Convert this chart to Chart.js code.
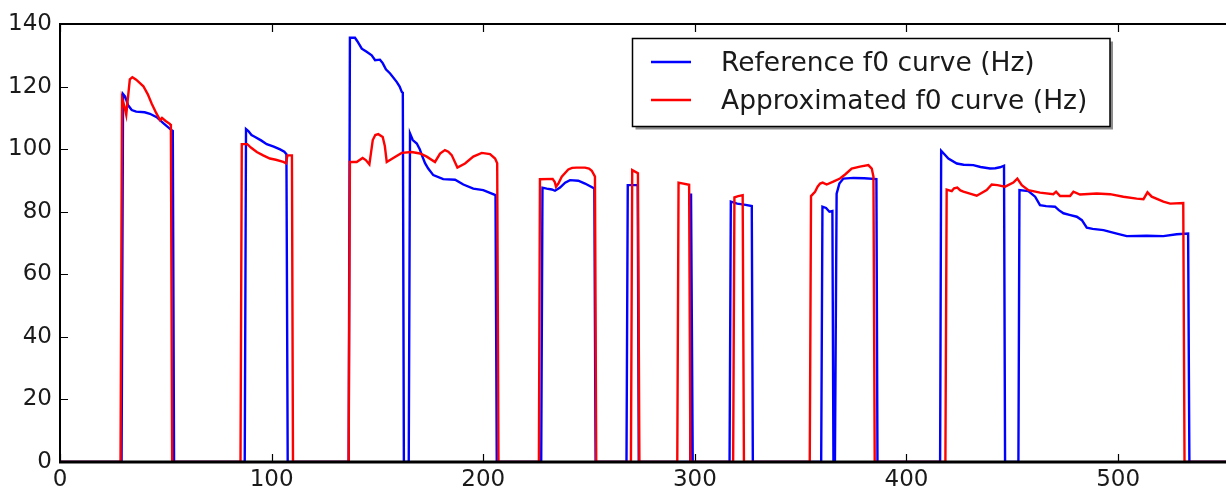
<!DOCTYPE html>
<html>
<head>
<meta charset="utf-8">
<title>f0 curves</title>
<script src="https://cdn.jsdelivr.net/npm/chart.js@4.4.1/dist/chart.umd.min.js"></script>
<style>
    html, body { margin: 0; padding: 0; background: #ffffff; }
    #wrap { width: 1226px; height: 493px; position: relative; }
</style>
</head>
<body>
<div id="wrap"><canvas id="f0Chart"></canvas></div>
<script>
// Reference f0 curve (blue), frame index -> Hz
const refX = [0,
    29.1, 29.8, 30.8, 32.2, 33.9, 36, 40, 42.5, 45.7, 48.8, 52.8, 53.3, 53.9,
    87.3, 87.9, 89, 90.5, 92.2, 95, 97.7, 101, 104, 106, 107.0, 107.6,
    136.4, 137, 139.4, 140.5, 142.6, 144.9, 147.3, 148.9, 151.2, 152.5, 154, 156, 159.1, 160.5, 161.5, 162, 162.5,
    164.8, 165.4, 166.7, 168.6, 170, 171, 172.5, 174, 176.4, 181.1, 186.7, 190.6, 195.3, 200, 205.8, 206.4,
    227.4, 228, 230, 232.4, 233.9, 236.3, 238.7, 241, 244.9, 248.1, 252.5, 253.1,
    267.7, 268.3, 273, 273.5,
    297.8, 298.2, 298.5, 299,
    316.4, 317, 320, 324, 326.9, 327.4,
    359.7, 360.3, 362, 363.6, 365, 365.5, 366.2, 367, 368.3, 370.2, 375, 380, 385.8, 386.3,
    415.9, 416.4, 417.5, 419.8, 423.8, 427, 431.6, 435, 439.5, 442, 444.2, 446.1, 446.6,
    452.9, 453.4, 457.6, 460.8, 463.1, 466, 470.2, 472, 474.2, 477, 480.5, 482.9, 485.2, 488, 493.1, 499.4, 504.1, 513.5, 521.4, 527.7, 533.1, 533.7,
    551];
const refY = [0,
    0, 117.6, 116.8, 114, 112.5, 112, 111.8, 111.3, 110.2, 108.3, 106, 105.8, 0,
    0, 106.4, 105.8, 104.5, 103.9, 102.8, 101.6, 100.8, 99.9, 99.2, 98.4, 0,
    0, 135.6, 135.6, 134.5, 132.1, 131.1, 130, 128.4, 128.6, 127.5, 125.5, 124.2, 121.5, 120, 118.3, 118, 0,
    0, 105, 102.9, 101.8, 100, 98.1, 95.5, 93.8, 91.7, 90.4, 90.2, 88.7, 87.4, 86.9, 85.3, 0,
    0, 87.7, 87.4, 87.1, 86.7, 87.7, 89.3, 90.1, 89.9, 89, 87.4, 0,
    0, 88.5, 88.5, 0,
    0, 85.8, 85.8, 0,
    0, 83.2, 82.6, 82.2, 81.8, 0,
    0, 81.6, 81.2, 80, 80.2, 0, 0, 85.8, 89, 90.6, 90.8, 90.7, 90.4, 0,
    0, 99.5, 98.7, 97, 95.4, 95, 94.9, 94.3, 93.8, 93.9, 94.2, 94.7, 0,
    0, 86.9, 86.6, 84.8, 82.1, 81.8, 81.6, 80.5, 79.5, 79, 78.4, 77.3, 74.9, 74.5, 74.1, 73, 72.2, 72.3, 72.2, 72.8, 73, 0,
    0];

// Approximated f0 curve (red)
const approxX = [0,
    28.6, 29.3, 30.5, 31.3, 32.2, 33, 34.2, 36, 39.4, 41.5, 43.3, 45.5, 47.3, 48.2, 49.9, 52, 52.4, 53,
    85.3, 85.9, 88.5, 90.2, 93, 96, 99.2, 102, 105.5, 106.8, 107.5, 109.6, 110.1,
    136.4, 137, 140.2, 143, 144.5, 146.2, 147.8, 149, 150.4, 152.5, 153.5, 154.4, 157.5, 161.5, 166.2, 170.1, 173.3, 177.2, 179.6, 181.9, 183.5, 185.1, 187.8, 191.4, 195.3, 199.3, 203.2, 205.6, 206.6, 207.2,
    226.3, 226.8, 232.8, 233.8, 234.4, 235.5, 237.1, 240.2, 242, 244.2, 248.1, 250, 251.3, 252.8, 253.4,
    269.8, 270.4, 273.1, 273.8,
    291.7, 292.3, 297.3, 297.9,
    318.1, 318.7, 320.5, 322.6, 323.2,
    354.3, 354.9, 356.8, 358, 359.2, 360.4, 362.3, 365.4, 368.6, 371, 374.1, 378, 382, 383.6, 384.4, 385,
    418.4, 419, 421.4, 422.5, 424, 425.5, 426.9, 430, 433.2, 437.9, 440.3, 443, 446.6, 450.5, 452.4, 454.5, 457.6, 463.1, 469.4, 470.7, 472.6, 477.3, 478.9, 482, 489.9, 496.2, 502.5, 508.8, 512, 513.9, 515.9, 521.4, 524.6, 530.8, 531.4,
    551];
const approxY = [0,
    0, 116.2, 113.5, 111, 117, 122.3, 123, 122.2, 120.1, 117.5, 114.6, 111.5, 109.3, 110, 109, 108, 107.5, 0,
    0, 101.6, 101.6, 100.5, 99.1, 98, 97, 96.6, 95.9, 95.5, 98, 98, 0,
    0, 95.9, 95.9, 97.2, 96.5, 95.1, 102.9, 104.5, 104.8, 103.9, 101, 95.9, 97.2, 98.8, 99.1, 98.6, 97.6, 95.9, 98.6, 99.7, 99.2, 98.1, 94.1, 95.4, 97.6, 98.8, 98.4, 97, 95.5, 0,
    0, 90.4, 90.5, 89.5, 88, 89, 91.2, 93.5, 94, 94.1, 94.1, 93.8, 93.1, 91.2, 0,
    0, 93.3, 92.3, 0,
    0, 89.3, 88.6, 0,
    0, 84.6, 85, 85.3, 0,
    0, 85, 86.4, 88, 89, 89.3, 88.7, 89.6, 90.6, 91.9, 93.8, 94.4, 94.9, 93.8, 91.2, 0,
    0, 87.1, 86.6, 87.5, 87.7, 86.8, 86.4, 85.8, 85.1, 86.9, 88.7, 88.5, 88, 89.3, 90.6, 88.5, 86.9, 86.1, 85.6, 86.4, 85, 85, 86.4, 85.5, 85.8, 85.6, 84.8, 84.2, 84, 86.2, 84.8, 83.2, 82.6, 82.8, 0,
    0];

const seriesLabels = ['Reference f0 curve (Hz)', 'Approximated f0 curve (Hz)'];
const seriesColors = ['#0000ff', '#ff0000'];
const xTicks = [0, 100, 200, 300, 400, 500];
const yTicks = [0, 20, 40, 60, 80, 100, 120, 140];

const TICK_FONT = '"DejaVu Sans", sans-serif';

// inward tick marks on bottom / top / left spines + the top spine itself
const frameTicks = {
    id: 'frameTicks',
    afterDraw(chart) {
        const { ctx, chartArea, scales } = chart;
        ctx.save();
        ctx.strokeStyle = '#000';
        ctx.lineWidth = 2;
        ctx.beginPath();
        ctx.moveTo(chartArea.left - 1, chartArea.top);
        ctx.lineTo(chartArea.right + 1, chartArea.top);
        ctx.stroke();

        // the zero runs of both curves sit under the bottom spine
        ctx.lineWidth = 3;
        ctx.beginPath();
        ctx.moveTo(chartArea.left - 1, chartArea.bottom);
        ctx.lineTo(chartArea.right + 1, chartArea.bottom);
        ctx.stroke();

        ctx.lineWidth = 1.2;
        ctx.beginPath();
        xTicks.forEach(v => {
            const px = Math.round(scales.x.getPixelForValue(v)) + 0.5;
            ctx.moveTo(px, chartArea.bottom);
            ctx.lineTo(px, chartArea.bottom - 8);
            ctx.moveTo(px, chartArea.top);
            ctx.lineTo(px, chartArea.top + 8);
        });
        yTicks.forEach(v => {
            const py = Math.round(scales.y.getPixelForValue(v)) + 0.5;
            ctx.moveTo(chartArea.left, py);
            ctx.lineTo(chartArea.left + 8, py);
        });
        ctx.stroke();
        ctx.restore();
    }
};

// matplotlib-style boxed legend with drop shadow, upper right
const boxLegend = {
    id: 'boxLegend',
    afterDraw(chart) {
        const ctx = chart.ctx;
        const box = { left: 632.5, top: 38.5, right: 1110, bottom: 126.5 };
        const w = box.right - box.left;
        const h = box.bottom - box.top;
        ctx.save();
        ctx.fillStyle = 'rgba(0, 0, 0, 0.45)';
        ctx.fillRect(box.left + 3, box.top + 3, w, h);
        ctx.fillStyle = '#ffffff';
        ctx.fillRect(box.left, box.top, w, h);
        ctx.strokeStyle = '#000';
        ctx.lineWidth = 1.5;
        ctx.strokeRect(box.left, box.top, w, h);

        const rows = [62, 100];
        ctx.font = '26.5px ' + TICK_FONT;
        ctx.textBaseline = 'alphabetic';
        ctx.textAlign = 'left';
        chart.data.datasets.forEach((ds, i) => {
            const y = rows[i];
            ctx.strokeStyle = ds.borderColor;
            ctx.lineWidth = 2.4;
            ctx.beginPath();
            ctx.moveTo(651, y);
            ctx.lineTo(691, y);
            ctx.stroke();
            ctx.fillStyle = '#1a1a1a';
            ctx.fillText(ds.label, 721, y + 9);
        });
        ctx.restore();
    }
};

class F0Chart {
    constructor(canvasId) {
        this.canvas = document.getElementById(canvasId);
        this.init();
    }

    toPoints(xs, ys) {
        return xs.map((x, i) => ({ x: x, y: ys[i] }));
    }

    init() {
        new Chart(this.canvas, {
            type: 'line',
            data: {
                datasets: [{
                    label: seriesLabels[0],
                    data: this.toPoints(refX, refY),
                    borderColor: seriesColors[0],
                    borderWidth: 2.4,
                    pointRadius: 0,
                    tension: 0,
                    fill: false,
                    order: 1
                }, {
                    label: seriesLabels[1],
                    data: this.toPoints(approxX, approxY),
                    borderColor: seriesColors[1],
                    borderWidth: 2.4,
                    pointRadius: 0,
                    tension: 0,
                    fill: false,
                    order: 0
                }]
            },
            options: {
                responsive: true,
                maintainAspectRatio: false,
                animation: false,
                events: [],
                layout: { padding: { top: 24, right: 0, bottom: 0, left: 0 } },
                plugins: {
                    legend: { display: false },
                    tooltip: { enabled: false }
                },
                scales: {
                    x: {
                        type: 'linear',
                        min: 0,
                        max: 551,
                        afterFit: (scale) => { scale.height = 31; },
                        afterBuildTicks: (scale) => {
                            scale.ticks = xTicks.map(v => ({ value: v }));
                        },
                        grid: { display: false, drawTicks: false },
                        border: { display: true, color: '#000', width: 2, z: 1 },
                        ticks: {
                            color: '#1a1a1a',
                            padding: 4,
                            maxRotation: 0,
                            font: { family: TICK_FONT, size: 23 }
                        }
                    },
                    y: {
                        min: 0,
                        max: 140,
                        afterFit: (scale) => { scale.width = 60; },
                        afterBuildTicks: (scale) => {
                            scale.ticks = yTicks.map(v => ({ value: v }));
                        },
                        grid: { display: false, drawTicks: false },
                        border: { display: true, color: '#000', width: 2, z: 1 },
                        ticks: {
                            color: '#1a1a1a',
                            padding: 8,
                            font: { family: TICK_FONT, size: 23 }
                        }
                    }
                }
            },
            plugins: [frameTicks, boxLegend]
        });
    }
}

new F0Chart('f0Chart');
</script>
</body>
</html>
